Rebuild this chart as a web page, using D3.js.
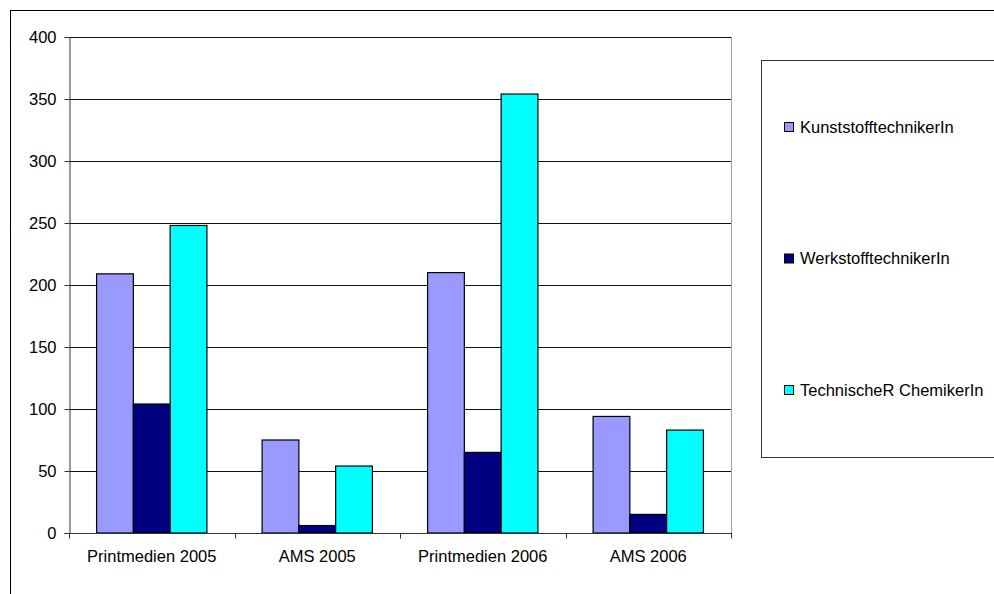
<!DOCTYPE html>
<html>
<head>
<meta charset="utf-8">
<script src="https://cdn.jsdelivr.net/npm/d3@7"></script>
<style>
  html, body { margin: 0; padding: 0; background: #fff; }
  svg { display: block; }
  text { font-family: "Liberation Sans", Arial, sans-serif; fill: #000; }
</style>
</head>
<body>
<svg id="chart" width="994" height="594"></svg>
<script>
// Categories, series and their values
const categories = ["Printmedien 2005", "AMS 2005", "Printmedien 2006", "AMS 2006"];
const seriesNames = ["KunststofftechnikerIn", "WerkstofftechnikerIn", "TechnischeR ChemikerIn"];
const kunststoff = [209, 75, 210, 94];
const werkstoff = [104, 6, 65, 15];
const chemiker = [248, 54, 354, 83];
const yTicks = [0, 50, 100, 150, 200, 250, 300, 350, 400];
const colors = ["#9999FF", "#000080", "#00FFFF"];

const seriesValues = [kunststoff, werkstoff, chemiker];
const rows = categories.map((c, i) => ({
  category: c,
  values: seriesNames.map((s, j) => ({ series: s, value: seriesValues[j][i], idx: j }))
}));

const svg = d3.select("#chart");
const plot = { left: 69, right: 731, top: 37, bottom: 533 };
const fontSize = 16.5;

// Outer chart frame (extends past the visible window on the right and bottom)
svg.append("rect")
  .attr("x", 10.5).attr("y", 10.5)
  .attr("width", 1200).attr("height", 800)
  .attr("fill", "none").attr("stroke", "#000").attr("stroke-width", 1);

const x0 = d3.scaleBand().domain(categories).range([plot.left, plot.right]).paddingInner(0).paddingOuter(0);
// 150% gap width: each category holds 3 bars plus 1.5 bar widths of gap
const x1 = d3.scaleBand().domain(seriesNames).range([0, x0.bandwidth()]).paddingInner(0).paddingOuter(0.75);
const y = d3.scaleLinear().domain([0, 400]).range([plot.bottom, plot.top]);

// Horizontal gridlines
svg.append("g")
  .selectAll("line")
  .data(yTicks.filter(t => t > 0))
  .join("line")
  .attr("x1", plot.left).attr("x2", plot.right)
  .attr("y1", d => Math.round(y(d)) + 0.5).attr("y2", d => Math.round(y(d)) + 0.5)
  .attr("stroke", "#111").attr("stroke-width", 1);

// Plot area right border
svg.append("line")
  .attr("x1", plot.right + 0.5).attr("x2", plot.right + 0.5)
  .attr("y1", plot.top).attr("y2", plot.bottom)
  .attr("stroke", "#a0a0a0");

// Bars
const groups = svg.append("g").selectAll("g")
  .data(rows).join("g")
  .attr("transform", d => `translate(${x0(d.category)},0)`);

groups.selectAll("rect")
  .data(d => d.values)
  .join("rect")
  .attr("x", d => x1(d.series))
  .attr("y", d => y(d.value))
  .attr("width", x1.bandwidth())
  .attr("height", d => y(0) - y(d.value))
  .attr("fill", d => colors[d.idx])
  .attr("stroke", "#000").attr("stroke-width", 1.2);

// Y axis
const yAxis = d3.axisLeft(y).tickValues(yTicks).tickSize(5).tickPadding(8);
const gy = svg.append("g").attr("transform", `translate(${plot.left + 0.5},0)`).call(yAxis);
gy.select(".domain").attr("stroke", "#333");
gy.selectAll(".tick line").attr("stroke", "#333");
gy.selectAll(".tick text")
  .attr("font-size", fontSize)
  .attr("font-family", "Liberation Sans, Arial, sans-serif")
  .attr("fill", "#000");

// X axis with ticks on category boundaries
const gx = svg.append("g").attr("transform", `translate(0,${plot.bottom + 0.5})`);
gx.append("line")
  .attr("x1", plot.left).attr("x2", plot.right + 1)
  .attr("stroke", "#333");
const boundaries = categories.map(c => x0(c)).concat([plot.right]);
gx.selectAll("line.tk")
  .data(boundaries)
  .join("line").attr("class", "tk")
  .attr("x1", d => Math.round(d) + 0.5).attr("x2", d => Math.round(d) + 0.5)
  .attr("y1", 0).attr("y2", 5)
  .attr("stroke", "#333");
gx.selectAll("text")
  .data(categories)
  .join("text")
  .attr("x", d => x0(d) + x0.bandwidth() / 2)
  .attr("y", 28)
  .attr("text-anchor", "middle")
  .attr("font-size", fontSize)
  .text(d => d);

// Legend
const legend = svg.append("g");
legend.append("rect")
  .attr("x", 761.5).attr("y", 60.5)
  .attr("width", 400).attr("height", 397)
  .attr("fill", "#fff").attr("stroke", "#333");
const legendY = d3.scalePoint().domain(seriesNames).range([127, 390]);
const items = legend.selectAll("g.item")
  .data(seriesNames).join("g").attr("class", "item")
  .attr("transform", d => `translate(784,${legendY(d)})`);
items.append("rect")
  .attr("x", 0.5).attr("y", -4.5)
  .attr("width", 9).attr("height", 9)
  .attr("fill", (d, i) => colors[i])
  .attr("stroke", "#000").attr("stroke-width", 1);
items.append("text")
  .attr("x", 16).attr("y", 0)
  .attr("dy", "0.35em")
  .attr("font-size", fontSize)
  .text(d => d);
</script>
</body>
</html>
